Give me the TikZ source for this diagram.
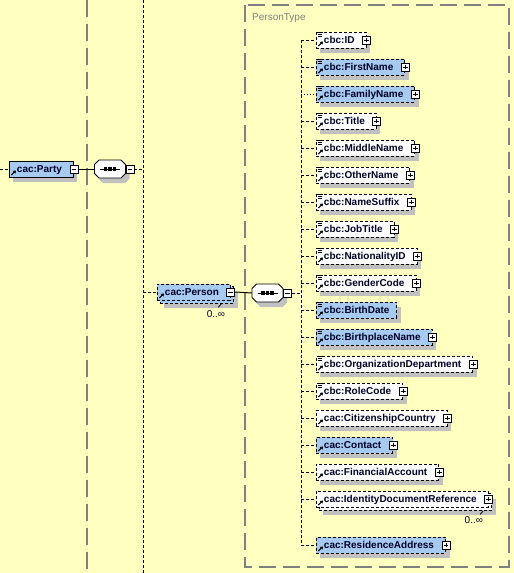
\documentclass[tikz,border=0pt]{standalone}
\usepackage{fontspec}
\setmainfont{Liberation Sans}
\usetikzlibrary{shadows,fit,arrows.meta}
\pgfdeclarelayer{behind}
\pgfsetlayers{behind,main}

\definecolor{paper}{RGB}{255,255,192}
\definecolor{sky}{RGB}{166,202,240}
\definecolor{shade}{RGB}{192,192,192}
\definecolor{guide}{RGB}{128,128,128}
\definecolor{ink}{RGB}{0,0,40}

\tikzset{
  pad right/.initial=11.5pt,
  guideline/.style={draw=guide, line width=1.3pt, dash pattern=on 17pt off 7pt},
  conn/.style={line width=1pt, dash pattern=on 3pt off 2pt},
  dotconn/.style={line width=1pt, dash pattern=on 1pt off 2pt},
  solidconn/.style={line width=1pt},
  boxshadow/.style={drop shadow={shadow xshift=4pt, shadow yshift=-5pt, fill=shade, opacity=1}},
  elembase/.style={rectangle, draw, line width=0.9pt, dash pattern=on 3pt off 2pt,
    minimum height=16pt, inner ysep=0pt, inner xsep=0pt,
    text height=8pt, text depth=0.5pt,
    font=\fontsize{10}{12}\selectfont\bfseries, text=ink, anchor=west,
    execute at begin node=\kern7.5pt,
    execute at end node=\kern\pgfkeysvalueof{/tikz/pad right}},
  elem/.style={elembase, boxshadow},
  elemw/.style={fill=white},
  elemb/.style={fill=sky},
  stackbox/.style={rectangle, draw, line width=0.9pt, dash pattern=on 3pt off 2pt,
    inner sep=0pt, boxshadow},
  refarrow/.style={solid, line width=1.1pt, -{Triangle[length=2.6pt,width=3.6pt]}},
  reficon/.style={path picture={
    \draw[refarrow] ([xshift=2pt,yshift=2pt]path picture bounding box.south west)
      -- ([xshift=6.5pt,yshift=6.5pt]path picture bounding box.south west);}},
  listicon/.style={path picture={
    \draw[solid, line width=0.8pt]
      ([xshift=0.5pt,yshift=-0.6pt]path picture bounding box.north west) -- ++(6pt,0pt)
      ([xshift=1.5pt,yshift=-2.6pt]path picture bounding box.north west) -- ++(4pt,0pt)
      ([xshift=1.5pt,yshift=-4.6pt]path picture bounding box.north west) -- ++(4pt,0pt);
    \draw[refarrow] ([xshift=2pt,yshift=2pt]path picture bounding box.south west)
      -- ([xshift=6.5pt,yshift=6.5pt]path picture bounding box.south west);}},
  toggle/.style={rectangle, draw, solid, line width=0.8pt, fill=white,
    minimum size=8pt, inner sep=0pt},
  plus/.style={toggle, path picture={
    \draw[line width=0.8pt]
      ([xshift=1.6pt]path picture bounding box.west) -- ([xshift=-1.6pt]path picture bounding box.east)
      ([yshift=1.6pt]path picture bounding box.south) -- ([yshift=-1.6pt]path picture bounding box.north);}},
  minus/.style={toggle, path picture={
    \draw[line width=0.8pt]
      ([xshift=1.6pt]path picture bounding box.west) -- ([xshift=-1.6pt]path picture bounding box.east);}},
  % sequence compositor: an invisible frame node, its octagon and its mark
  seq/.style={rectangle, minimum width=31pt, minimum height=18pt, inner sep=0pt, outer sep=0pt},
  octagon/.style={draw, solid, line width=0.8pt, fill=white, boxshadow},
  seqmark/.style={line width=0.9pt},
  mult/.style={font=\fontsize{10}{12}\selectfont, text=ink, inner sep=0pt},
  typelabel/.style={font=\fontsize{10}{12}\selectfont, text=guide, inner sep=0pt},
}

% octagon around a sequence node, chamfer 4.5pt, with the sequence mark
\newcommand\seqoctagon[1]{%
  \draw[octagon]
    ([yshift=4.5pt]#1.west) -- ([xshift=4.5pt]#1.north west) -- ([xshift=-4.5pt]#1.north east)
    -- ([yshift=4.5pt]#1.east) -- ([yshift=-4.5pt]#1.east) -- ([xshift=-4.5pt]#1.south east)
    -- ([xshift=4.5pt]#1.south west) -- ([yshift=-4.5pt]#1.west) -- cycle;
  \draw[seqmark] ([xshift=-10pt]#1.center) -- ([xshift=10pt]#1.center);
  \foreach \dx in {-4.5,0,4.5}
    \fill[black] ([xshift=\dx pt]#1.center) +(-1.6pt,-1.6pt) rectangle +(1.6pt,1.6pt);
}

\begin{document}
\begin{tikzpicture}[x=1pt, y=-1pt]
  \useasboundingbox (0,0) rectangle (514,573);
  \begin{pgfonlayer}{behind}
    \fill[paper] (0,0) rectangle (514,573);
  \end{pgfonlayer}

  % column guides
  \coordinate (g1t) at (87,0);   \coordinate (g1b) at (87,573);
  \coordinate (dtop) at (143,0); \coordinate (dbot) at (143,573);
  \draw[guideline] (g1t) -- (g1b);
  \draw[conn] (dtop) -- (dbot);

  % complex type frame
  \coordinate (ptnw) at (245,5);
  \coordinate (ptse) at (509,567);
  \draw[guideline] (ptnw) rectangle (ptse);
  \node[typelabel, anchor=base west] (ptlabel) at (252,20) {PersonType};

  % root element and its sequence
  \coordinate (leftedge) at (0,169);
  \node[elem, elemb, reficon, solid] (party) at (9,169) {cac:Party};
  \node[minus] (partyx) at (party.east) {};
  \node[seq] (seq1) at (110,169) {};
  \seqoctagon{seq1}
  \node[minus, anchor=west] (seq1x) at (seq1.east) {};

  % repeated child element
  \node[elembase, elemb, reficon] (person) at (157,292) {cac:Person};
  \begin{pgfonlayer}{behind}
    \node[stackbox, fill=sky, fit=(person), xshift=3pt, yshift=-3pt] (personstack) {};
  \end{pgfonlayer}
  \node[minus] (personx) at (person.east) {};
  \node[mult, anchor=base east] (personmult)
    at ([xshift=-9pt,yshift=-14pt]personstack.south east) {0..∞};
  \draw[line width=0.8pt] ([xshift=-13pt]personstack.south east) -- ++(-3pt,-3.5pt);

  \node[seq] (seq2) at (267.5,293) {};
  \seqoctagon{seq2}
  \node[minus, anchor=west] (seq2x) at (seq2.east) {};

  % children of PersonType
  \coordinate (bus) at (301,40);
  \foreach \i/\lbl/\sty/\icon in {
      0/cbc:ID/elemw/listicon,
      1/cbc:FirstName/elemb/listicon,
      2/cbc:FamilyName/elemb/listicon,
      3/cbc:Title/elemw/listicon,
      4/cbc:MiddleName/elemw/listicon,
      5/cbc:OtherName/elemw/listicon,
      6/cbc:NameSuffix/elemw/listicon,
      7/cbc:JobTitle/elemw/listicon,
      8/cbc:NationalityID/elemw/listicon,
      9/cbc:GenderCode/elemw/listicon,
      11/cbc:BirthplaceName/elemb/listicon,
      12/cbc:OrganizationDepartment/elemw/listicon,
      13/cbc:RoleCode/elemw/listicon,
      14/cac:CitizenshipCountry/elemw/reficon,
      15/cac:Contact/elemb/reficon,
      16/cac:FinancialAccount/elemw/reficon} {
    \node[elem, \sty, \icon] (c\i) at (316, 40+27*\i) {\lbl};
    \node[plus] (x\i) at (c\i.east) {};
  }
  \node[elem, elemb, listicon, pad right=7pt] (c10) at (316,310) {cbc:BirthDate};

  \node[elembase, elemw, reficon] (c17) at (316,499) {cac:IdentityDocumentReference};
  \begin{pgfonlayer}{behind}
    \node[stackbox, fill=white, fit=(c17), xshift=3pt, yshift=-3pt] (c17stack) {};
  \end{pgfonlayer}
  \node[plus] (x17) at (c17.east) {};
  \node[mult, anchor=base east] (c17mult)
    at ([xshift=-9pt,yshift=-13pt]c17stack.south east) {0..∞};
  \draw[line width=0.8pt] ([xshift=-9pt]c17stack.south east) -- ++(-3pt,-3.5pt);

  \node[elem, elemb, reficon] (c18) at (316,545) {cac:ResidenceAddress};
  \node[plus] (x18) at (c18.east) {};

  % connectors
  \draw[conn] (leftedge) -- (party.west);
  \draw[solidconn] (partyx.east) -- (seq1.west);
  \draw[conn] (seq1x.east) -- (seq1x.east -| dtop);
  \draw[conn] (person.west -| dtop) -- (person.west);
  \draw[solidconn] (personx.east) -- (seq2.west);
  \draw[conn] (seq2x.east) -- (seq2x.east -| bus);
  \draw[conn] (bus) -- (bus |- c18.west);
  \foreach \i in {0,1,3,4,...,18}
    \draw[conn] (c\i.west -| bus) -- (c\i.west);
  \draw[dotconn] (c2.west -| bus) -- (c2.west);
\end{tikzpicture}
\end{document}
